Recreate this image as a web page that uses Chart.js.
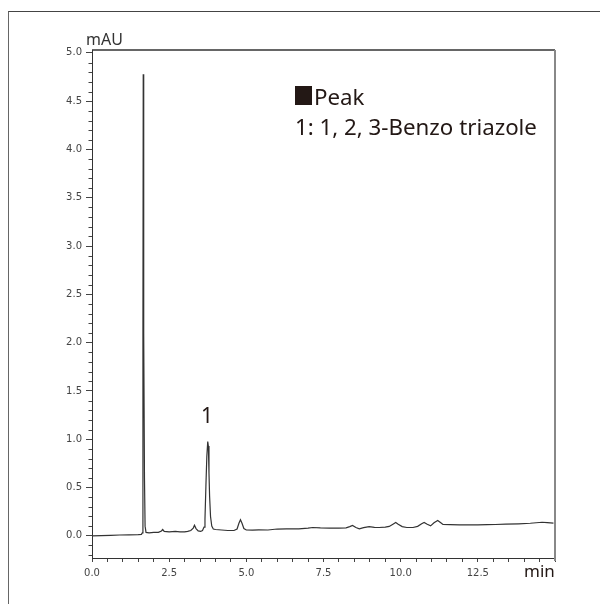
<!DOCTYPE html>
<html>
<head>
<meta charset="utf-8">
<script src="https://cdn.jsdelivr.net/npm/chart.js@4/dist/chart.umd.min.js"></script>
<style>
  html, body { margin: 0; padding: 0; background: #fff; }
  #wrap { position: relative; width: 600px; height: 604px; overflow: hidden; }
  #frame { position: absolute; left: 8px; top: 11px; width: 620px; height: 620px;
           border-left: 1px solid #666; border-top: 1px solid #444; }
  canvas { position: absolute; left: 0; top: 0; }
  .t { position: absolute; font-family: "Noto Sans", sans-serif; color: #231815; line-height: normal; white-space: nowrap; }
  .sq { display: inline-block; width: 17px; height: 19px; background: #231815; }
</style>
</head>
<body>
<div id="wrap">
  <div id="frame"></div>
  <canvas id="c" width="600" height="604"></canvas>
  <div class="t" style="left:86px; top:28px; font-size:16px; color:#333;">mAU</div>
  <div class="sq" style="position:absolute; left:295px; top:86px;"></div>
  <div class="t" style="left:314px; top:81px; font-size:22.3px;">Peak</div>
  <div class="t" style="left:295px; top:111px; font-size:22.3px;">1: 1, 2, 3-Benzo triazole</div>
  <div class="t" style="left:197px; top:401px; width:20px; text-align:center; font-size:21px;">1</div>
  <div class="t" style="left:524px; top:559px; font-size:17px;">min</div>
</div>
<script>
// Retention time (min)
const timeMin = [
  0.00, 0.30, 0.60, 0.90, 1.20, 1.50, 1.60, 1.63, 1.65, 1.66, 1.67, 1.68, 1.70, 1.72, 1.75,
  1.85, 2.00, 2.15, 2.25, 2.29, 2.34, 2.50, 2.70, 2.85, 3.00, 3.10, 3.20, 3.28, 3.32, 3.37,
  3.44, 3.52, 3.58, 3.63, 3.66, 3.69, 3.72, 3.75, 3.77, 3.79, 3.81, 3.84, 3.88, 3.93, 4.00,
  4.20, 4.40, 4.60, 4.70, 4.76, 4.81, 4.86, 4.92, 5.00, 5.20, 5.40, 5.70, 6.00, 6.30, 6.70,
  7.00, 7.15, 7.40, 7.70, 8.00, 8.23, 8.35, 8.44, 8.55, 8.66, 8.80, 8.98, 9.15, 9.30, 9.50,
  9.63, 9.75, 9.84, 9.92, 10.05, 10.20, 10.40, 10.55, 10.68, 10.76, 10.86, 10.97, 11.08, 11.20, 11.30,
  11.37, 11.60, 11.90, 12.20, 12.50, 12.80, 13.07, 13.40, 13.82, 14.20, 14.58, 14.75, 14.95
];
// Absorbance (mAU)
const signalMAU = [
  0.000, 0.002, 0.005, 0.008, 0.010, 0.013, 0.015, 0.030, 2.100, 4.780, 4.520, 2.100, 0.600, 0.100, 0.035,
  0.030, 0.035, 0.035, 0.050, 0.065, 0.045, 0.040, 0.045, 0.040, 0.040, 0.045, 0.055, 0.080, 0.110, 0.075,
  0.050, 0.045, 0.055, 0.090, 0.170, 0.510, 0.820, 0.976, 0.930, 0.650, 0.410, 0.200, 0.100, 0.070, 0.065,
  0.060, 0.055, 0.055, 0.070, 0.130, 0.166, 0.130, 0.075, 0.060, 0.058, 0.062, 0.060, 0.070, 0.072, 0.072,
  0.080, 0.086, 0.082, 0.080, 0.080, 0.082, 0.095, 0.107, 0.085, 0.072, 0.085, 0.095, 0.088, 0.086, 0.090,
  0.097, 0.120, 0.138, 0.120, 0.095, 0.086, 0.086, 0.098, 0.125, 0.138, 0.120, 0.103, 0.135, 0.159, 0.135,
  0.117, 0.115, 0.114, 0.112, 0.114, 0.115, 0.117, 0.120, 0.124, 0.130, 0.140, 0.136, 0.131
];
const xLabelValues = [0, 2.5, 5, 7.5, 10, 12.5];
const yLabelValues = [0, 0.5, 1, 1.5, 2, 2.5, 3, 3.5, 4, 4.5, 5];
const yMinorTicks = [-0.2, -0.1, 0.1, 0.2, 0.3, 0.4, 0.6, 0.7, 0.8, 0.9, 1.1, 1.2, 1.3, 1.4, 1.6, 1.7, 1.8, 1.9,
  2.1, 2.2, 2.3, 2.4, 2.6, 2.7, 2.8, 2.9, 3.1, 3.2, 3.3, 3.4, 3.6, 3.7, 3.8, 3.9, 4.1, 4.2, 4.3, 4.4, 4.6, 4.7, 4.8, 4.9];

const points = timeMin.map((t, i) => ({ x: t, y: signalMAU[i] }));

const framePlugin = {
  id: 'frame',
  afterDraw(chart) {
    const ctx = chart.ctx, a = chart.chartArea, ys = chart.scales.y;
    ctx.save();
    // minor y ticks
    ctx.strokeStyle = '#444';
    ctx.lineWidth = 1;
    ctx.beginPath();
    yMinorTicks.forEach(v => {
      const py = Math.round(ys.getPixelForValue(v)) + 0.5;
      ctx.moveTo(a.left - 3.5, py);
      ctx.lineTo(a.left, py);
    });
    ctx.stroke();
    // top border
    ctx.strokeStyle = '#333';
    ctx.lineWidth = 1.3;
    ctx.beginPath();
    ctx.moveTo(a.left, a.top);
    ctx.lineTo(a.right, a.top);
    ctx.stroke();
    // right border
    ctx.strokeStyle = '#888';
    ctx.lineWidth = 2;
    ctx.beginPath();
    ctx.moveTo(a.right, a.top);
    ctx.lineTo(a.right, a.bottom + 3);
    ctx.stroke();
    ctx.restore();
  }
};

new Chart(document.getElementById('c'), {
  type: 'line',
  data: {
    datasets: [{
      data: points,
      borderColor: '#333333',
      borderWidth: 1.2,
      pointRadius: 0,
      tension: 0,
      fill: false
    }]
  },
  options: {
    responsive: false,
    animation: false,
    devicePixelRatio: 1,
    layout: { padding: { top: 50, right: 45, left: 0, bottom: 0 } },
    plugins: { legend: { display: false }, tooltip: { enabled: false } },
    scales: {
      x: {
        type: 'linear',
        min: 0, max: 15,
        afterFit: s => { s.height = 46; },
        border: { color: '#333', width: 1 },
        grid: { drawOnChartArea: false, tickLength: 4, tickColor: '#444' },
        ticks: {
          stepSize: 0.5, autoSkip: false, maxRotation: 0, padding: 5,
          color: '#444', font: { family: 'DejaVu Sans', size: 10 },
          callback: v => xLabelValues.some(l => Math.abs(l - v) < 1e-6) ? v.toFixed(1) : ''
        }
      },
      y: {
        min: -0.23, max: 5.03,
        afterFit: s => { s.width = 92; },
        border: { color: '#333', width: 1 },
        grid: { drawOnChartArea: false, tickLength: 6, tickColor: '#444' },
        ticks: {
          stepSize: 0.5, includeBounds: false, padding: 4,
          color: '#444', font: { family: 'DejaVu Sans', size: 10 },
          callback: v => yLabelValues.some(l => Math.abs(l - v) < 1e-6) ? v.toFixed(1) : ''
        }
      }
    }
  },
  plugins: [framePlugin]
});
</script>
</body>
</html>
